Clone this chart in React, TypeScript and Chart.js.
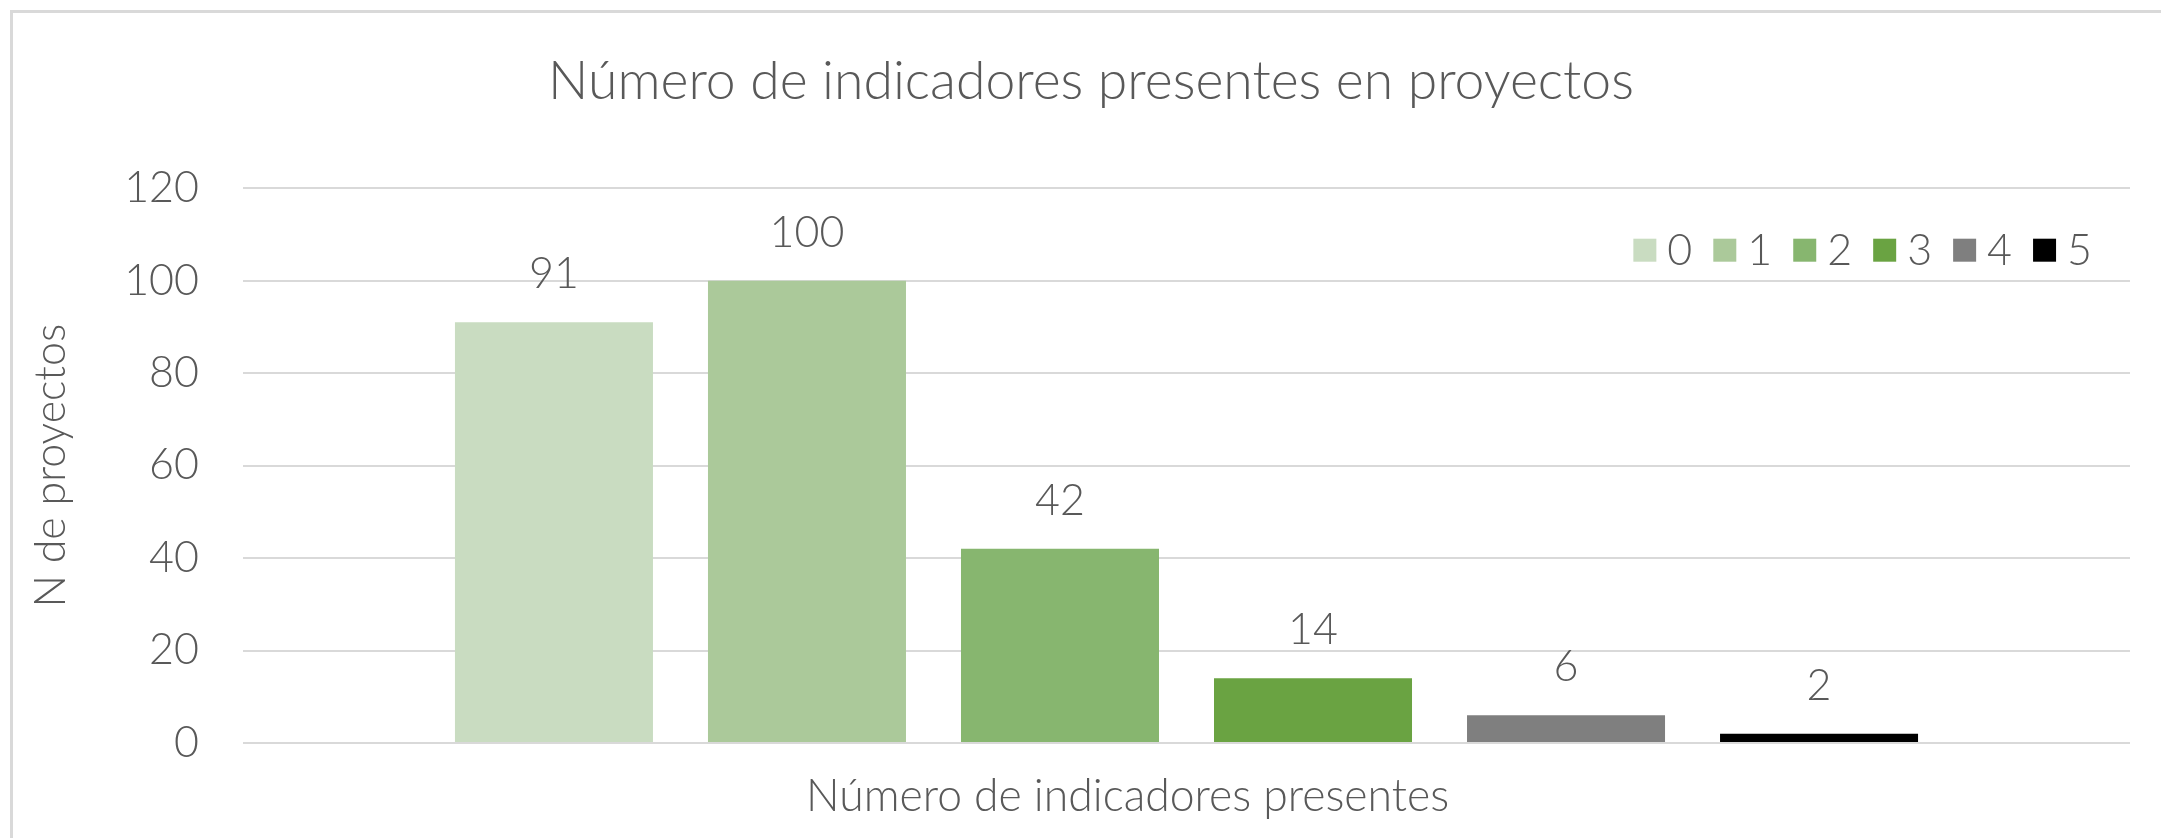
import React, { useEffect, useRef } from 'react';
import { Chart, registerables } from 'chart.js';

Chart.register(...registerables);

// ---- data ----
const categories = [''];
const seriesLabels = ['0', '1', '2', '3', '4', '5'];
const seriesValues = [91, 100, 42, 14, 6, 2];
const seriesColors = ['#c9dcc1', '#abc99a', '#87b66f', '#6aa342', '#7f7f7f', '#000000'];
const yMin = 0;
const yMax = 120;
const yStep = 20;
const chartTitle = 'Número de indicadores presentes en proyectos';
const xAxisTitle = 'Número de indicadores presentes';
const yAxisTitle = 'N de proyectos';

// ---- style ----
const FONT = 'Lato, "Open Sans", "Liberation Sans", sans-serif';
const WEIGHT = '300';
const TEXT = '#595959';
const GRID = '#d9d9d9';
const W = 2182;
const H = 838;

const dataLabelsPlugin = {
  id: 'dataLabels',
  afterDatasetsDraw(chart: any) {
    const ctx = chart.ctx;
    ctx.save();
    ctx.font = `${WEIGHT} 43px ${FONT}`;
    ctx.fillStyle = TEXT;
    ctx.textAlign = 'center';
    ctx.textBaseline = 'alphabetic';
    chart.data.datasets.forEach((ds: any, i: number) => {
      const meta = chart.getDatasetMeta(i);
      meta.data.forEach((bar: any, j: number) => {
        ctx.fillText(String(ds.data[j]), bar.x, bar.y - 34);
      });
    });
    ctx.restore();
  },
};

const legendPlugin = {
  id: 'insideLegend',
  afterDraw(chart: any) {
    const ctx = chart.ctx;
    const area = chart.chartArea;
    ctx.save();
    ctx.font = `${WEIGHT} 43px ${FONT}`;
    ctx.textBaseline = 'middle';
    ctx.textAlign = 'left';
    const box = 23;
    const gapText = 11;
    const gapItem = 21;
    const items = chart.data.datasets.map((ds: any) => ({
      label: ds.label,
      color: ds.backgroundColor,
      w: ctx.measureText(ds.label).width,
    }));
    const total =
      items.reduce((s: number, it: any) => s + box + gapText + it.w, 0) + gapItem * (items.length - 1);
    let x = area.right - 38 - total;
    const cy = area.top + 62;
    items.forEach((it: any) => {
      ctx.fillStyle = it.color;
      ctx.fillRect(x, cy - box / 2, box, box);
      x += box + gapText;
      ctx.fillStyle = TEXT;
      ctx.fillText(it.label, x, cy + 1);
      x += it.w + gapItem;
    });
    ctx.restore();
  },
};

const xTitlePlugin = {
  id: 'xTitle',
  afterDraw(chart: any) {
    const ctx = chart.ctx;
    const area = chart.chartArea;
    ctx.save();
    ctx.font = `${WEIGHT} 44.5px ${FONT}`;
    ctx.fillStyle = TEXT;
    ctx.textAlign = 'center';
    ctx.textBaseline = 'alphabetic';
    ctx.fillText(xAxisTitle, (area.left + area.right) / 2 - 59, area.bottom + 68);
    ctx.restore();
  },
};

export default function App() {
  const ref = useRef<HTMLCanvasElement | null>(null);

  useEffect(() => {
    if (!ref.current) return;
    const chart = new Chart(ref.current, {
      type: 'bar',
      data: {
        labels: categories,
        datasets: seriesLabels.map((label, i) => ({
          label,
          data: [seriesValues[i]],
          backgroundColor: seriesColors[i],
          borderWidth: 0,
          categoryPercentage: 0.8045,
          barPercentage: 0.7826,
        })),
      },
      options: {
        responsive: false,
        animation: false,
        layout: { padding: { left: 52, right: 52, top: 0, bottom: 0 } },
        plugins: {
          legend: { display: false },
          tooltip: { enabled: false },
          title: {
            display: true,
            text: chartTitle,
            color: TEXT,
            font: { family: FONT, size: 53.5, weight: WEIGHT, lineHeight: 1.2 },
            padding: { top: 50, bottom: 74 },
          },
        },
        scales: {
          x: {
            grid: { display: false },
            border: { display: false },
            ticks: { display: false },
            afterFit: (s: any) => {
              s.height = 95;
            },
          },
          y: {
            min: yMin,
            max: yMax,
            ticks: {
              stepSize: yStep,
              padding: 44,
              color: TEXT,
              font: { family: FONT, size: 43, weight: WEIGHT },
            },
            grid: { color: GRID, lineWidth: 2, drawTicks: false },
            border: { display: false },
            title: {
              display: true,
              text: yAxisTitle,
              color: TEXT,
              font: { family: FONT, size: 43, weight: WEIGHT, lineHeight: 1.2 },
              padding: { top: -27, bottom: 0 },
            },
            afterFit: (s: any) => {
              s.width = 191;
            },
          },
        },
      },
      plugins: [dataLabelsPlugin, legendPlugin, xTitlePlugin],
    });
    return () => chart.destroy();
  }, []);

  return (
    <div
      style={{
        position: 'fixed',
        left: 0,
        top: 0,
        width: 2161,
        height: 838,
        overflow: 'hidden',
        background: '#ffffff',
      }}
    >
      <div
        style={{
          position: 'absolute',
          left: 10,
          top: 10,
          width: 3000,
          height: 3000,
          borderLeft: `3px solid ${GRID}`,
          borderTop: `3px solid ${GRID}`,
        }}
      />
      <canvas
        ref={ref}
        width={W}
        height={H}
        style={{ position: 'absolute', left: 0, top: 0, width: W, height: H }}
      />
    </div>
  );
}
